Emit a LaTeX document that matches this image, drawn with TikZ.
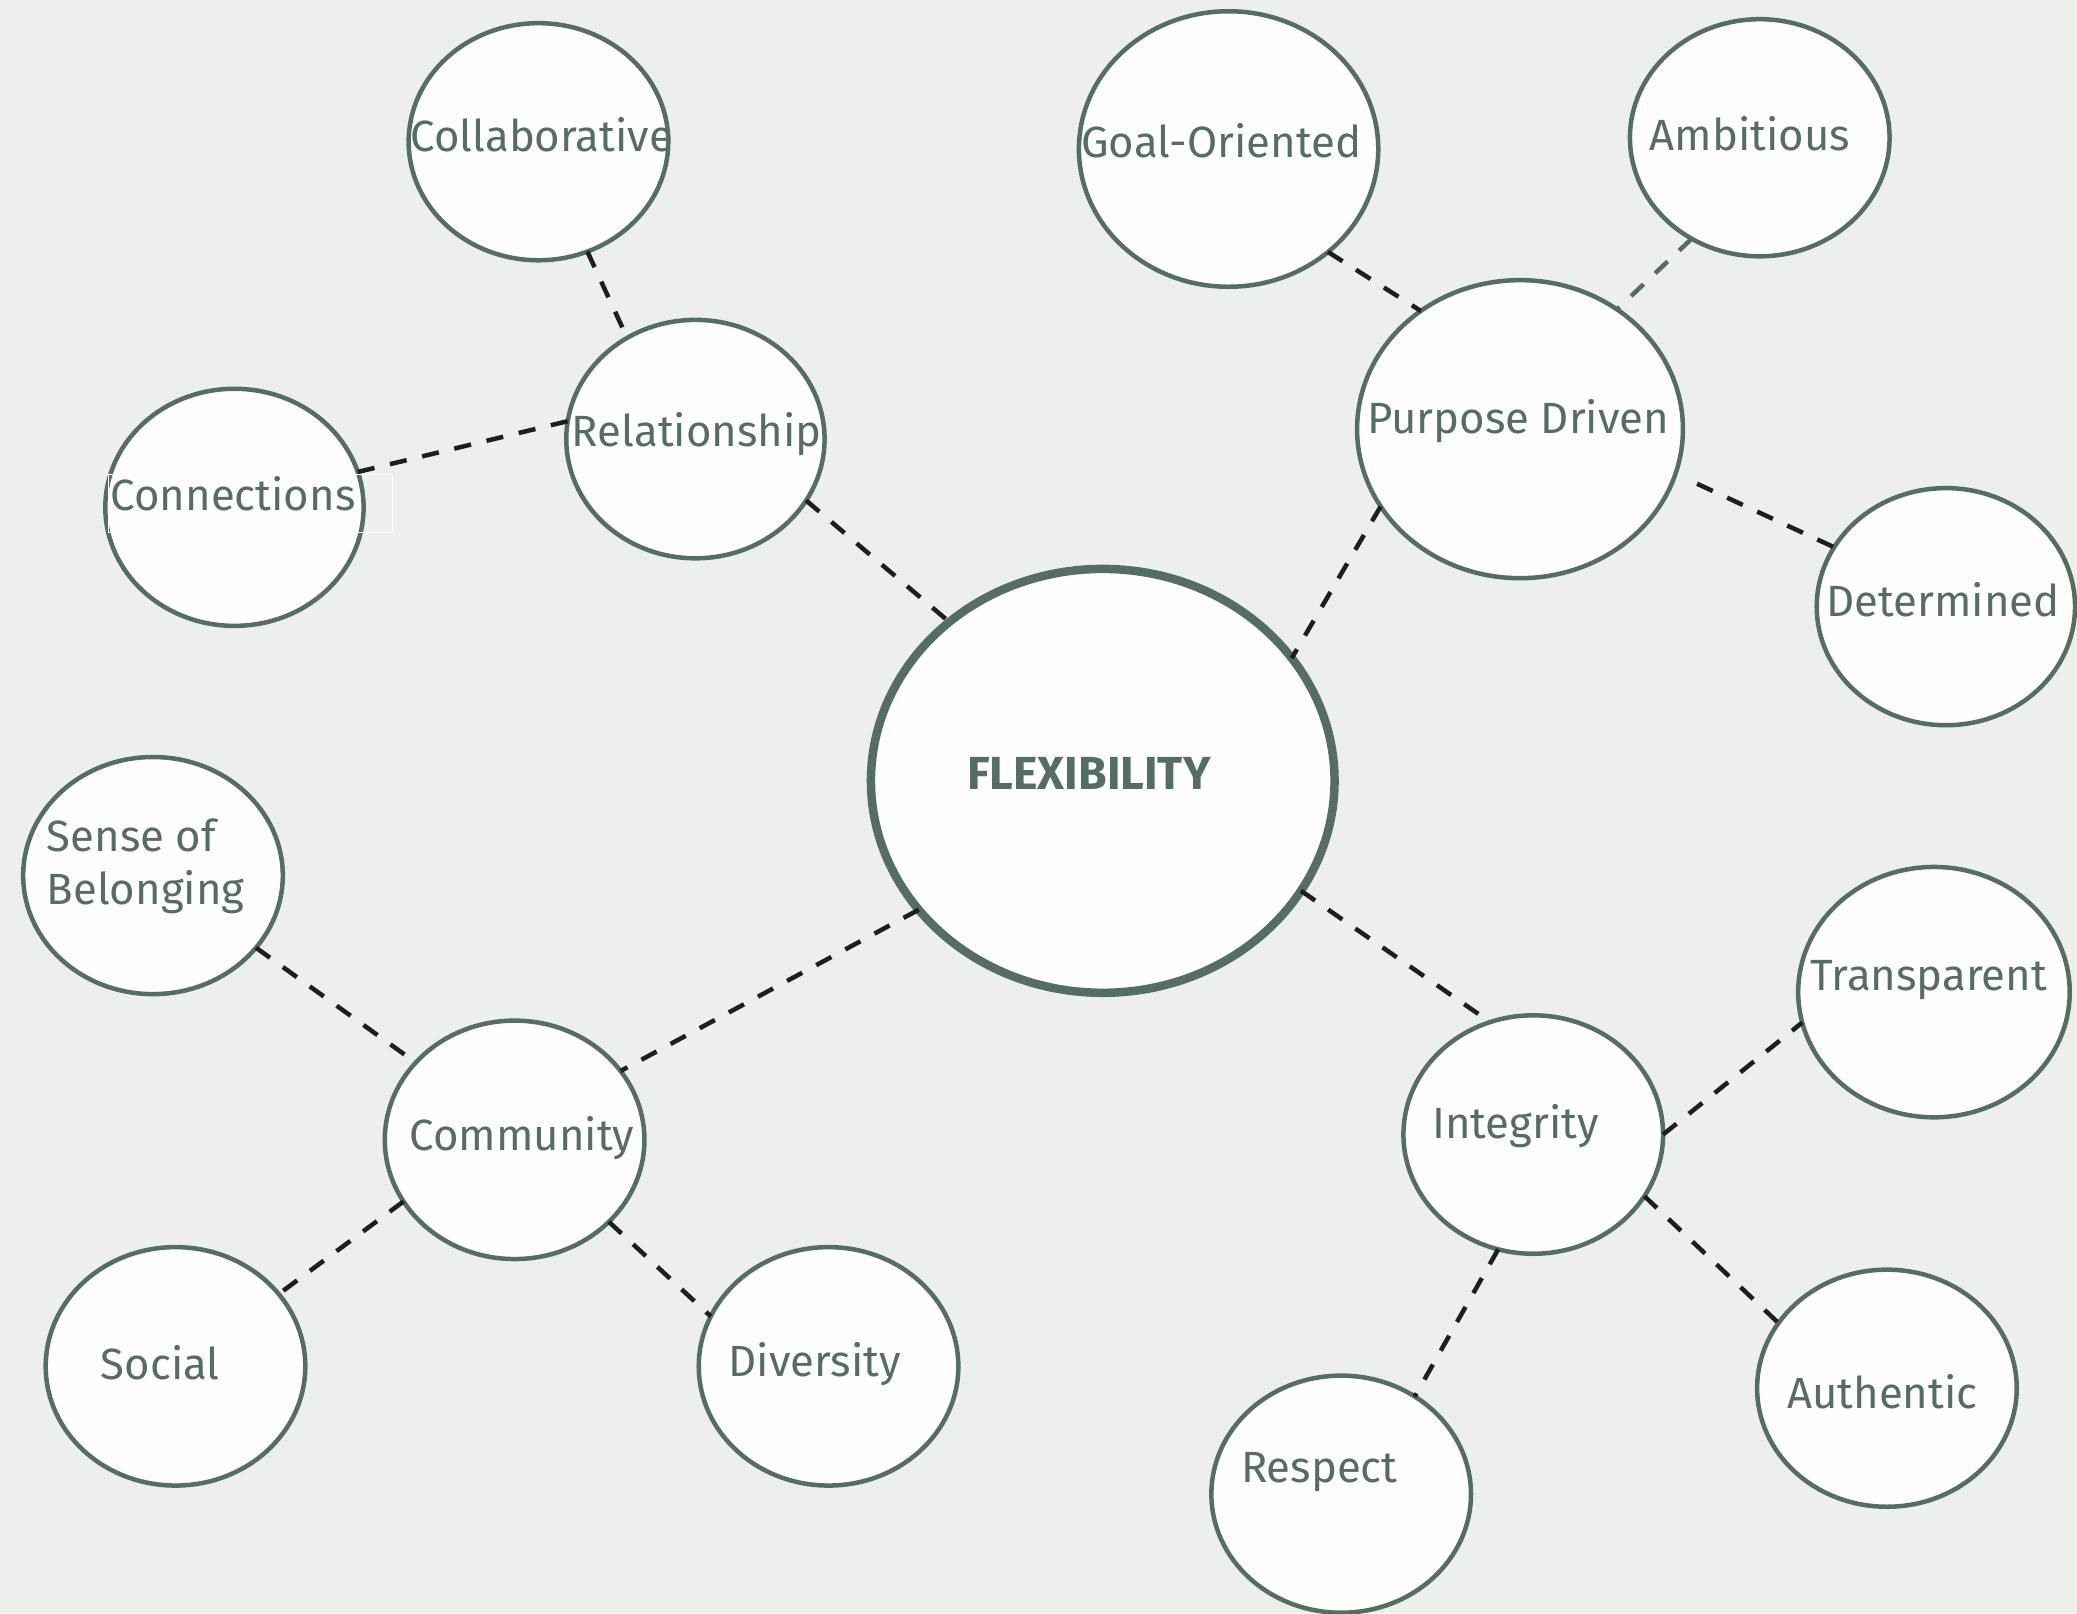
\documentclass[tikz,border=0pt]{standalone}
\usepackage{fontspec}
\setmainfont{Fira Sans}
\usetikzlibrary{shapes.geometric}
\definecolor{bg}{HTML}{ECEFEC}
\definecolor{ink}{HTML}{546E64}
\definecolor{dashc}{HTML}{1E1E1E}
\definecolor{paper}{HTML}{FEFEFC}
\tikzset{
  bubble/.style n args={2}{ellipse, draw=ink, line width=1.7pt, fill=paper,
    inner sep=0pt, outer sep=0pt, minimum width=#1*0.5pt, minimum height=#2*0.5pt},
  lbl/.style={text=ink, font=\fontsize{16.5}{20}\selectfont, inner sep=0pt},
  link/.style={draw=dashc, line width=1.7pt, dash pattern=on 6.5pt off 6pt},
  softlink/.style={link, draw=ink}
}
\begin{document}
\begin{tikzpicture}[x=0.5pt,y=-0.5pt]
\fill[bg] (0,0) rectangle (1568,1218);
\useasboundingbox (0,0) rectangle (1568,1218);

% bubbles
\node[bubble={196}{179}] (collab) at (406.5,107) {};
\node[bubble={195}{180}] (rel) at (525,331.5) {};
\node[bubble={195}{179}] (conn) at (177,383) {};
\node[bubble={226}{208}] (goal) at (927.5,112.5) {};
\node[bubble={196}{179}] (amb) at (1328.5,104) {};
\node[bubble={246}{225}] (purp) at (1147.5,324) {};
\node[bubble={195}{179}] (det) at (1469,458) {};
\node[bubble={350}{320}, line width=3.2pt] (flex) at (832.5,589.5) {};
\node[bubble={196}{179}] (sense) at (115.5,661) {};
\node[bubble={196}{180}] (comm) at (388.5,860.5) {};
\node[bubble={196}{180}] (soc) at (132.5,1031.5) {};
\node[bubble={196}{180}] (div) at (625.5,1031.5) {};
\node[bubble={205}{189}] (trans) at (1460,749) {};
\node[bubble={196}{180}] (integ) at (1157.5,856.5) {};
\node[bubble={196}{179}] (auth) at (1424.5,1048) {};
\node[bubble={196}{179}] (resp) at (1012.5,1128) {};

% stray text-box outline beside Connections
\node[draw=white, line width=0.4pt, inner sep=0pt, minimum width=107pt, minimum height=22pt] (connbox) at (189,380) {};

% labels
\node[lbl] (t-collab) at (409,102) {Collaborative};
\node[lbl] (t-rel) at (526,328) {Relationship};
\node[lbl] (t-conn) at (176,373) {Connections};
\node[lbl] (t-goal) at (922,106) {Goal-Oriented};
\node[lbl] (t-amb) at (1321,101) {Ambitious};
\node[lbl] (t-purp) at (1146,318) {Purpose Driven};
\node[lbl] (t-det) at (1467,453) {Determined};
\node[lbl, font=\fontsize{17.5}{20}\selectfont\bfseries] (t-flex) at (822,584) {FLEXIBILITY};
\node[lbl, align=left, anchor=west] (t-sense) at (35,654) {Sense of\\Belonging};
\node[lbl] (t-comm) at (394,859) {Community};
\node[lbl] (t-soc) at (121,1029) {Social};
\node[lbl] (t-div) at (615,1030) {Diversity};
\node[lbl] (t-trans) at (1456,740) {Transparent};
\node[lbl] (t-integ) at (1144,850) {Integrity};
\node[lbl] (t-auth) at (1421,1051) {Authentic};
\node[lbl] (t-resp) at (996,1111) {Respect};

% connectors
\draw[link] (collab.-66) -- (rel.124);
\draw[link] (conn.16) -- (rel.172);
\draw[link] (rel.-29) -- (flex.134);
\draw[link] (goal.-46) -- (purp.130);
\draw[softlink] (amb.236) -- (purp.51.5);
\draw[link, shorten <=9pt] (purp.-16.7) -- (det.152);
\draw[link] (purp.209.6) -- (flex.33);
\draw[link] (flex.215.5) -- (comm.33.4);
\draw[link] (flex.-29.6) -- (integ.111);
\draw[link] (sense.-35.2) -- (comm.142.7);
\draw[link] (comm.209.6) -- (soc.35.9);
\draw[link] (comm.-41.5) -- (div.157);
\draw[link] (integ.0.8) -- (trans.193.2);
\draw[link] (integ.-29.2) -- (auth.149);
\draw[link] (integ.253.6) -- (resp.53.3);
\end{tikzpicture}
\end{document}
